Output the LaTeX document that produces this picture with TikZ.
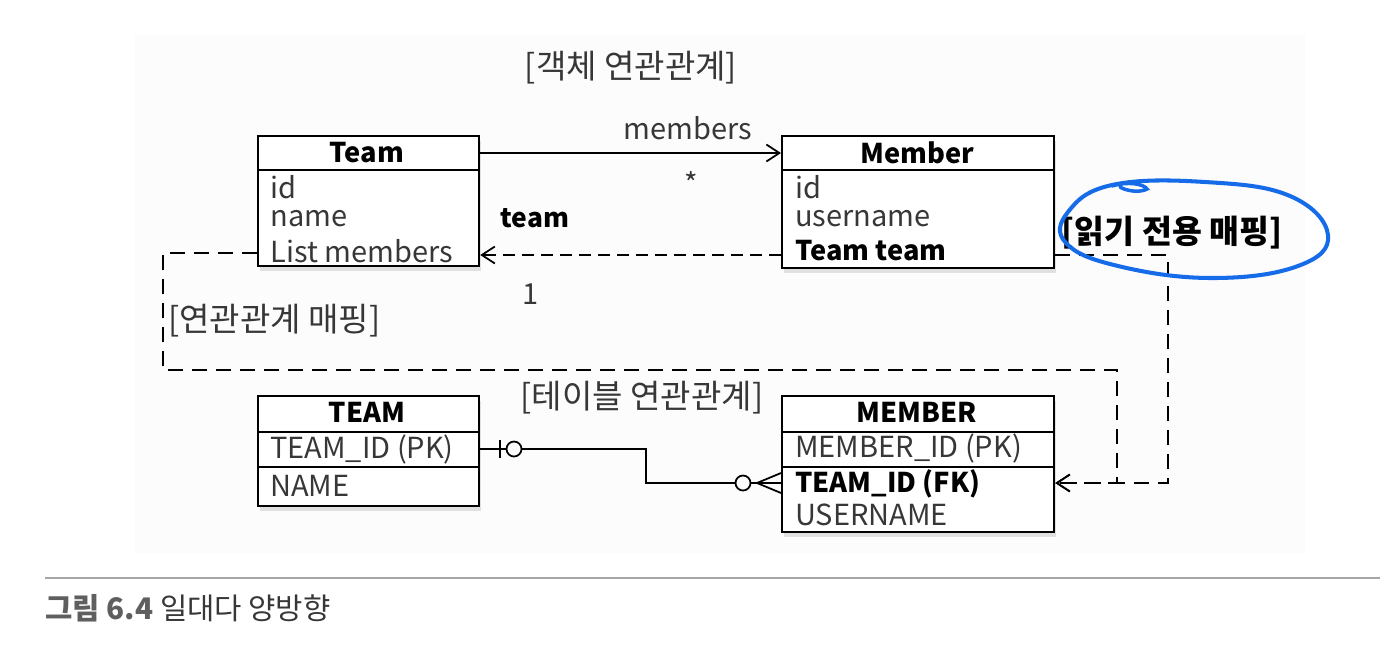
\documentclass[tikz,border=0pt]{standalone}
\usepackage{fontspec}
\setmainfont{Noto Sans CJK KR}
\usetikzlibrary{arrows.meta, positioning, shadows}

\definecolor{attrgray}{RGB}{55,55,55}
\definecolor{capgray}{RGB}{95,95,95}
\definecolor{penblue}{RGB}{22,108,232}
\definecolor{bggray}{RGB}{252,252,252}

\tikzset{
  classbox/.style={draw, line width=1.3pt, fill=white, anchor=north west, inner sep=0pt,
    drop shadow={shadow xshift=0.4mm, shadow yshift=-0.9mm, opacity=0.22}},
  boxtitle/.style={inner sep=0pt, font=\fontsize{15.5}{18}\selectfont\bfseries},
  attr/.style={anchor=west, inner sep=0pt, text=attrgray, font=\fontsize{16.5}{18}\selectfont},
  keyattr/.style={anchor=west, inner sep=0pt, font=\fontsize{15.5}{18}\selectfont\bfseries},
  lbl/.style={inner sep=0pt, text=attrgray, font=\fontsize{16.5}{18}\selectfont},
  korlbl/.style={inner sep=0pt, text=attrgray, font=\fontsize{18.8}{20}\selectfont},
  conn/.style={line width=1pt},
  barb/.style={-{Straight Barb[length=2.6mm, width=3.4mm, line width=1pt]}},
  mapdash/.style={dash pattern=on 0.3cm off 0.18cm},
  arrdash/.style={dash pattern=on 0.24cm off 0.14cm}
}

\begin{document}
\begin{tikzpicture}[x=0.02cm, y=-0.02cm]
    \useasboundingbox (0,0) rectangle (1380,660);
    \fill[bggray] (135,35) rectangle (1305,553);

    % 객체 연관관계
    \node (objlbl) [korlbl] at (631,68) {[객체 연관관계]};

    \node (team) [classbox, minimum width=4.42cm, minimum height=2.6cm] at (257,135) {};
    \draw[line width=1.3pt] (257,170) -- (478,170);
    \node (teamT) [boxtitle] at (367,153) {Team};
    \node (teamId) [attr] at (270,187) {id};
    \node (teamName) [attr] at (270,219) {name};
    \node (teamList) [attr] at (270,251) {List members};

    \node (member) [classbox, minimum width=5.44cm, minimum height=2.64cm] at (781,135) {};
    \draw[line width=1.3pt] (781,170) -- (1053,170);
    \node (memberT) [boxtitle] at (917,153) {Member};
    \node (memberId) [attr] at (795,187) {id};
    \node (memberName) [attr] at (795,219) {username};
    \node (memberTeam) [keyattr] at (795,251) {Team team};

    % 양방향 참조
    \draw[conn, barb] (team.east |- teamT) -- (member.west |- teamT);
    \node (members) [lbl] at (688,128) {members};
    \node (many) [lbl] at (691,183) {*};
    \draw[conn, arrdash, barb] (member.west |- 0,255) -- (team.east |- 0,255);
    \node (teamlbl) [lbl, text=black, font=\fontsize{15}{18}\selectfont\bfseries] at (535,218) {team};
    \node (one) [lbl] at (531,294) {1};

    % 테이블 연관관계
    \node (tablbl) [korlbl] at (642,398) {[테이블 연관관계]};

    \node (TEAM) [classbox, minimum width=4.42cm, minimum height=2.2cm] at (257,395) {};
    \draw[line width=1.3pt] (257,432) -- (478,432);
    \draw[line width=1.3pt] (257,467) -- (478,467);
    \node (TEAMT) [boxtitle] at (367,412) {TEAM};
    \node (TEAMpk) [attr] at (270,449) {TEAM\_ID (PK)};
    \node (TEAMname) [attr] at (270,486) {NAME};

    \node (MEMBER) [classbox, minimum width=5.44cm, minimum height=2.72cm] at (781,395) {};
    \draw[line width=1.3pt] (781,432) -- (1053,432);
    \draw[line width=1.3pt] (781,467) -- (1053,467);
    \node (MEMBERT) [boxtitle] at (917,412) {MEMBER};
    \node (MEMBERpk) [attr] at (795,448) {MEMBER\_ID (PK)};
    \node (MEMBERfk) [keyattr] at (795,484) {TEAM\_ID (FK)};
    \node (MEMBERname) [attr] at (795,515) {USERNAME};

    % 1:N 관계선
    \draw[conn] (TEAM.east |- TEAMpk) -- (506,449);
    \draw[conn] (500,440) -- (500,458);
    \draw[conn] (514,449) circle (7.5);
    \draw[conn] (521.5,449) -| (646,483) -- (735.5,483);
    \draw[conn] (743,483) circle (7.5);
    \draw[conn] (750.5,483) -- (MEMBER.west |- 0,483);
    \draw[conn] (757,483) -- (MEMBER.west |- 0,473);
    \draw[conn] (757,483) -- (MEMBER.west |- 0,493);

    % 연관관계 매핑
    \draw[conn, mapdash, barb] (team.west |- 0,253) -- (163,253) -- (163,370) -- (1117,370) -- (1117,483) -- (MEMBER.east |- 0,483);
    \node (maplbl) [korlbl, anchor=west] at (168,321) {[연관관계 매핑]};

    % 읽기 전용 매핑
    \draw[conn, mapdash, barb] (member.east |- 0,255) -- (1168,255) -- (1168,483) -- (MEMBER.east |- 0,483);
    \node (rolbl) [korlbl, text=black, font=\fontsize{18.5}{20}\selectfont\bfseries] at (1172,233) {[읽기 전용 매핑]};
    \draw[penblue, line width=2.3pt, line cap=round] plot[smooth cycle, tension=0.7] coordinates {(1112,185) (1205,182) (1290,196) (1328,235) (1298,266) (1212,278) (1118,266) (1066,243) (1068,212)};
    \draw[penblue, line width=2pt, line cap=round] (1112,186) .. controls (1128,181) and (1144,184) .. (1147,189) .. controls (1140,193) and (1126,191) .. (1120,187);

    % 캡션
    \draw[gray!70, line width=1pt] (45,578) -- (1380,578);
    \node (caption) [anchor=west, inner sep=0pt, font=\fontsize{16.9}{20}\selectfont] at (45,608) {\textcolor{capgray}{\bfseries 그림 6.4} \textcolor{attrgray}{일대다 양방향}};
\end{tikzpicture}
\end{document}
